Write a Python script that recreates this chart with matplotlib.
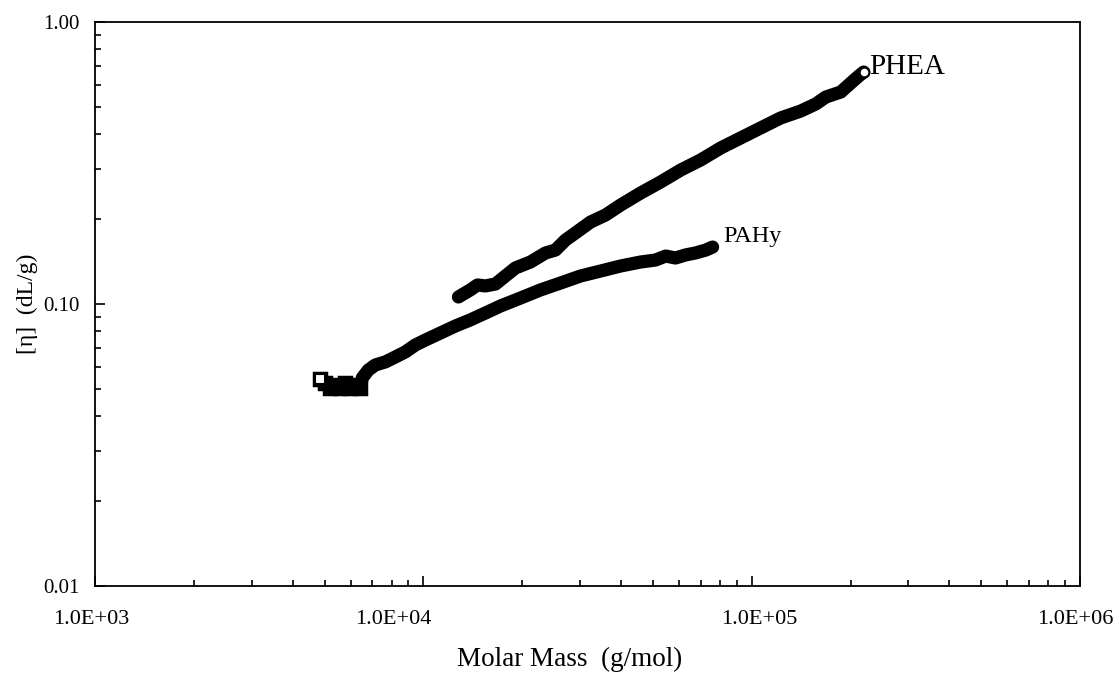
import matplotlib
matplotlib.use("Agg")
import matplotlib.pyplot as plt
import matplotlib.transforms as mtransforms
from matplotlib.ticker import FixedLocator, FuncFormatter, LogLocator, NullFormatter

plt.rcParams['font.family'] = ['Liberation Serif', 'DejaVu Serif']

# PHEA: molar mass (g/mol) and intrinsic viscosity (dL/g)
phea_mass = [12790, 13240, 13900, 14620, 15450, 16580, 17780, 19070, 21190, 23550,
             25240, 27100, 29050, 32300, 35900, 39900, 45900, 52800, 60800, 69900,
             80400, 92500, 106400, 122500, 141000, 156700, 168200, 186800, 200400,
             211900, 219400]
phea_eta = [0.1059, 0.1085, 0.1122, 0.1168, 0.1159, 0.1177, 0.1257, 0.1342, 0.1409, 0.1517,
            0.1553, 0.1686, 0.1786, 0.1953, 0.2069, 0.2244, 0.2475, 0.2708, 0.2986, 0.3241,
            0.3573, 0.3878, 0.4208, 0.4567, 0.4833, 0.5120, 0.5420, 0.5646, 0.6077,
            0.6435, 0.6647]

# PAHy
pahy_mass = [4853, 5025, 5206, 5393, 5585, 5786, 5987, 6205, 6427, 6516, 6797, 7145,
             7656, 8222, 8810, 9460, 10140, 11270, 12530, 13900, 15450, 17180, 19770,
             22750, 26180, 30120, 34670, 39900, 45900, 50930, 54700, 58610, 62950,
             67450, 72440, 76030]
pahy_eta = [0.0542, 0.0525, 0.0504, 0.0516, 0.0504, 0.0525, 0.0504, 0.0516, 0.0504,
            0.0547, 0.0583, 0.0608, 0.0623, 0.0649, 0.0676, 0.0716, 0.0745, 0.0789,
            0.0836, 0.0878, 0.0929, 0.0984, 0.1050, 0.1122, 0.1187, 0.1257, 0.1309,
            0.1364, 0.1409, 0.1432, 0.1479, 0.1456, 0.1493, 0.1517, 0.1553, 0.1592]

x_ticks = [1e3, 1e4, 1e5, 1e6]
x_labels = ['1.0E+03', '1.0E+04', '1.0E+05', '1.0E+06']
x_label_shift = [-4, -30, 8, -5]   # pixel offsets seen in the scanned original
y_ticks = [0.01, 0.1, 1.0]

fig = plt.figure(figsize=(11.14, 6.73), dpi=100)
ax = fig.add_axes([0.0853, 0.1293, 0.8842, 0.838])

ax.plot(phea_mass, phea_eta, color='black', lw=9.5, solid_capstyle='round',
        solid_joinstyle='round')
ax.plot(phea_mass[-1:], phea_eta[-1:], 'o', ms=7, mfc='white', mec='black', mew=1.5)

ax.plot(pahy_mass, pahy_eta, color='black', lw=9.5, solid_capstyle='round',
        solid_joinstyle='round')
ax.plot(pahy_mass[:9], pahy_eta[:9], 's', ms=8, mfc='none', mec='black', mew=2.5)
ax.plot(pahy_mass[:1], pahy_eta[:1], 's', ms=7, mfc='white', mec='black', mew=1.5)

ax.text(227500, 0.692, 'PHEA', fontsize=21, ha='left', va='center')
ax.text(82200, 0.173, 'PAHy', fontsize=17.5, ha='left', va='center')

ax.set_xscale('log')
ax.set_yscale('log')
ax.set_xlim(1e3, 1e6)
ax.set_ylim(0.01, 1.0)

ax.xaxis.set_major_locator(FixedLocator(x_ticks))
ax.yaxis.set_major_locator(FixedLocator(y_ticks))
ax.xaxis.set_minor_locator(LogLocator(base=10, subs=range(2, 10)))
ax.yaxis.set_minor_locator(LogLocator(base=10, subs=range(2, 10)))
ax.xaxis.set_minor_formatter(NullFormatter())
ax.yaxis.set_minor_formatter(NullFormatter())
ax.xaxis.set_major_formatter(NullFormatter())
ax.yaxis.set_major_formatter(FuncFormatter(lambda v, p: '%.2f' % v))

ax.tick_params(which='both', direction='in', top=False, right=False,
               labelsize=15, width=1.2)
ax.tick_params(axis='y', which='both', pad=11)
ax.tick_params(which='major', length=7)
ax.tick_params(which='minor', length=4)

# x tick labels, placed by hand to keep the offsets of the original
trans = mtransforms.blended_transform_factory(ax.transData, ax.transAxes)
for xv, lab, dx in zip(x_ticks, x_labels, x_label_shift):
    off = mtransforms.ScaledTranslation(dx / 100, 0, fig.dpi_scale_trans)
    ax.text(xv, -0.059, lab, transform=trans + off, fontsize=16,
            ha='center', va='center', clip_on=False)

for s in ax.spines.values():
    s.set_linewidth(1.3)

fig.text(570 / 1114, 1 - 659 / 673, 'Molar Mass  (g/mol)', fontsize=19.5,
         ha='center', va='center')
ax.set_ylabel('[\u03b7]  (dL/g)', fontsize=17, labelpad=4)

fig.savefig('out.png', dpi=100)
